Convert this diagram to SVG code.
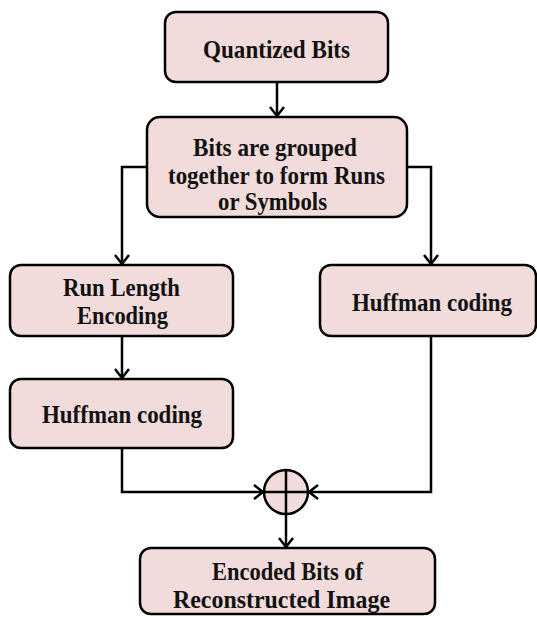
<svg xmlns="http://www.w3.org/2000/svg" width="537" height="617" viewBox="0 0 537 617">
  <style>
    .box { fill: #F2DCDB; stroke: #000; stroke-width: 2.5; }
    .lbl { font-family: "Liberation Serif", "Times New Roman", serif; font-weight: bold; font-size: 25px; fill: #111; text-anchor: middle; }
    .conn { fill: none; stroke: #000; stroke-width: 2.5; marker-end: url(#arr); }
  </style>
  <defs>
    <marker id="arr" markerUnits="userSpaceOnUse" markerWidth="20" markerHeight="20" viewBox="-12 -10 14 20" refX="0" refY="0" orient="auto">
      <path d="M-9,-7 L0,0 L-9,7" fill="none" stroke="#000" stroke-width="2.5"/>
    </marker>
  </defs>
  <rect width="537" height="617" fill="#fff"/>

  <g id="connectors">
    <path class="conn" d="M277,82 V116"/>
    <path class="conn" d="M147,167 H122 V264"/>
    <path class="conn" d="M407,167 H431 V264"/>
    <path class="conn" d="M122,336 V378"/>
    <path class="conn" d="M122,448 V492 H263"/>
    <path class="conn" d="M431,336 V492 H309"/>
    <path class="conn" d="M286,514 V547"/>
  </g>

  <g id="quantized">
    <rect class="box" x="165" y="12" width="223" height="70" rx="11"/>
    <text class="lbl" x="276.5" y="57.5" textLength="147" lengthAdjust="spacingAndGlyphs">Quantized Bits</text>
  </g>
  <g id="grouped">
    <rect class="box" x="147" y="117" width="260" height="100" rx="13"/>
    <text class="lbl" x="275" y="156" textLength="164" lengthAdjust="spacingAndGlyphs">Bits are grouped</text>
    <text class="lbl" x="276.5" y="184" textLength="217" lengthAdjust="spacingAndGlyphs">together to form Runs</text>
    <text class="lbl" x="272.5" y="210" textLength="109" lengthAdjust="spacingAndGlyphs">or Symbols</text>
  </g>
  <g id="rle">
    <rect class="box" x="10" y="265" width="223" height="71" rx="11"/>
    <text class="lbl" x="121.5" y="296" textLength="117" lengthAdjust="spacingAndGlyphs">Run Length</text>
    <text class="lbl" x="122.5" y="324" textLength="91" lengthAdjust="spacingAndGlyphs">Encoding</text>
  </g>
  <g id="huffman-right">
    <rect class="box" x="320" y="265" width="216" height="71" rx="11"/>
    <text class="lbl" x="432" y="310.5" textLength="160" lengthAdjust="spacingAndGlyphs">Huffman coding</text>
  </g>
  <g id="huffman-left">
    <rect class="box" x="10" y="379" width="223" height="69" rx="11"/>
    <text class="lbl" x="122" y="423" textLength="160" lengthAdjust="spacingAndGlyphs">Huffman coding</text>
  </g>
  <g id="sum">
    <circle class="box" cx="286" cy="492" r="22"/>
    <path d="M264,492 H308 M286,470 V514" stroke="#000" stroke-width="2.5" fill="none"/>
  </g>
  <g id="encoded">
    <rect class="box" x="140" y="548" width="295" height="66" rx="11"/>
    <text class="lbl" x="287.5" y="580" textLength="151" lengthAdjust="spacingAndGlyphs">Encoded Bits of</text>
    <text class="lbl" x="281.5" y="608" textLength="217" lengthAdjust="spacingAndGlyphs">Reconstructed Image</text>
  </g>
</svg>
